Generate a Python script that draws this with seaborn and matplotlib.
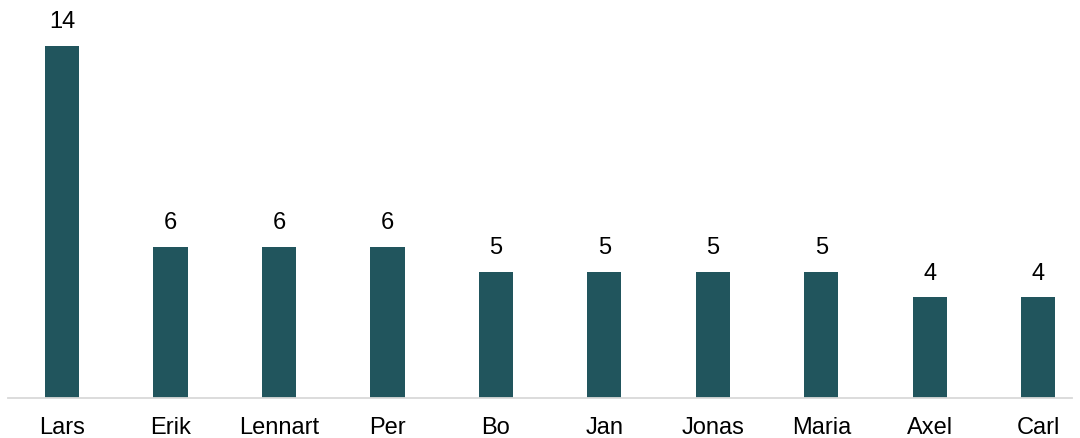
import matplotlib
matplotlib.use("Agg")
import matplotlib.pyplot as plt
import seaborn as sns
import pandas as pd

names = ["Lars", "Erik", "Lennart", "Per", "Bo", "Jan", "Jonas", "Maria", "Axel", "Carl"]
counts = [14, 6, 6, 6, 5, 5, 5, 5, 4, 4]

sns.set_theme(style="white")
plt.rcParams["font.family"] = ["Liberation Sans", "DejaVu Sans"]

df = pd.DataFrame({"name": names, "count": counts})

fig = plt.figure(figsize=(10.8, 4.39), dpi=100)
ax = fig.add_axes([8 / 1080, 40 / 439, 1064 / 1080, 399 / 439])
sns.barplot(data=df, x="name", y="count", color="#21555D", width=0.314,
            saturation=1, linewidth=0, ax=ax)

for p, v in zip(ax.patches, counts):
    ax.annotate(str(v), (p.get_x() + p.get_width() / 2, p.get_height()),
                xytext=(0, 10), textcoords="offset points",
                ha="center", va="bottom", fontsize=17, color="#000000")

ax.set_xlim(-0.498, 9.31)
ax.set_ylim(0, 15.87)
ax.set_xlabel("")
ax.set_ylabel("")
ax.set_yticks([])
for s in ["top", "right", "left"]:
    ax.spines[s].set_visible(False)
ax.spines["bottom"].set_color("#D9D9D9")
ax.spines["bottom"].set_linewidth(1.3)
ax.tick_params(axis="x", length=0, pad=13, labelsize=17, labelcolor="#000000")
ax.patch.set_alpha(0)

fig.savefig("out.png", dpi=100)
